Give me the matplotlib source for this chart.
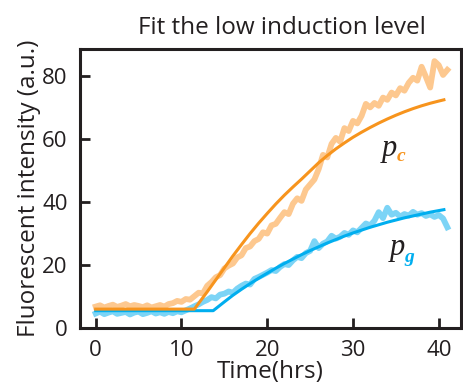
import matplotlib
matplotlib.use("Agg")
import matplotlib.pyplot as plt
import numpy as np

# measured traces, sampled every 0.5 h
time_raw = np.arange(0, 41.01, 0.5)
pc_raw = [
    6.8, 7.2, 6.5, 7.0, 7.4, 6.7, 7.1, 7.6, 6.9, 7.3,
    7.0, 6.6, 7.2, 6.5, 6.9, 7.3, 6.8, 7.6, 7.9, 8.6,
    8.3, 9.2, 9.0, 10.1, 11.2, 11.0, 13.4, 14.6, 16.1, 16.8,
    18.9, 19.8, 20.5, 22.4, 23.1, 25.4, 25.9, 27.6, 28.3, 30.4,
    30.0, 32.6, 33.1, 35.0, 36.8, 36.2, 39.5, 41.2, 40.4, 44.0,
    45.6, 47.2, 50.5, 55.0, 54.2, 58.5, 60.4, 59.2, 63.5, 62.6,
    65.8, 65.0, 67.4, 71.2, 70.1, 71.5, 70.6, 73.2, 72.5, 74.8,
    73.9, 76.2, 75.4, 77.9, 79.5, 78.6, 83.0, 79.8, 76.4, 84.8,
    83.5, 80.4, 82.0,
]
pg_raw = [
    4.6, 5.2, 4.4, 4.9, 5.3, 4.5, 4.8, 5.1, 4.3, 4.9,
    5.2, 4.4, 4.8, 5.3, 4.6, 5.0, 4.5, 5.1, 4.7, 5.3,
    5.0, 5.6, 6.2, 6.9, 7.5, 8.3, 8.9, 9.8, 9.4, 10.6,
    10.9, 11.6, 11.2, 12.5, 13.4, 14.1, 13.8, 15.6, 16.2, 16.9,
    17.6, 18.4, 18.1, 19.4, 20.3, 20.0, 21.5, 22.6, 22.2, 23.8,
    24.5, 27.6, 25.4, 26.8, 27.5, 29.3, 28.4, 29.0, 30.2, 29.6,
    31.0, 30.4, 31.8, 33.2, 32.6, 34.1, 36.8, 34.9, 38.2, 36.0,
    36.6, 35.4, 36.2, 35.7, 36.9, 36.0, 36.5, 35.6, 36.1, 35.3,
    35.9, 34.8, 32.0,
]

# model fits
pc_fit_t = [0, 11.5, 13, 14, 15, 16, 17, 18, 19, 20, 21, 22, 23, 24, 25, 26, 27,
            28, 29, 30, 31, 32, 33, 34, 35, 36, 37, 38, 39, 40, 40.6]
pc_fit = [6.0, 6.0, 11.5, 15.3, 19.1, 22.9, 26.5, 30.0, 33.3, 36.4, 39.4, 42.2,
          44.8, 47.3, 49.9, 52.5, 54.8, 56.9, 58.8, 60.6, 62.2, 63.7, 65.1,
          66.4, 67.6, 68.7, 69.7, 70.6, 71.4, 72.1, 72.5]
pg_fit_t = [0, 13.7, 15, 16, 17, 18, 19, 20, 21, 22, 23, 24, 25, 26, 27, 28, 29,
            30, 31, 32, 33, 34, 35, 36, 37, 38, 39, 40, 40.6]
pg_fit = [5.5, 5.5, 8.3, 10.4, 12.3, 14.1, 15.8, 17.4, 19.0, 20.5, 21.9, 23.3,
          24.6, 25.8, 27.0, 28.1, 29.2, 30.2, 31.1, 32.0, 32.8, 33.6, 34.3,
          35.0, 35.6, 36.2, 36.8, 37.3, 37.6]

orange = "#F7941D"
orange_light = "#FDC88F"
blue = "#00AEEF"
blue_light = "#7CD4F6"
ink = "#231F20"

plt.rcParams["font.family"] = ["Open Sans", "DejaVu Sans"]

fig = plt.figure(figsize=(4.63, 3.9), dpi=100)
ax = fig.add_axes([0.1728, 0.159, 0.823, 0.715])

ax.plot(time_raw, pg_raw, color=blue_light, lw=4.2, solid_joinstyle="round")
ax.plot(time_raw, pc_raw, color=orange_light, lw=4.2, solid_joinstyle="round")
ax.plot(pg_fit_t, pg_fit, color=blue, lw=2.2)
ax.plot(pc_fit_t, pc_fit, color=orange, lw=2.2)

ax.set_xlim(-1.83, 42.6)
ax.set_ylim(0, 88.6)
ax.set_xticks([0, 10, 20, 30, 40])
ax.set_yticks([0, 20, 40, 60, 80])
ax.tick_params(direction="in", length=7, width=2, labelsize=16, pad=9,
               colors=ink)
for s in ax.spines.values():
    s.set_linewidth(2.2)
    s.set_color(ink)

ax.set_xlabel("Time(hrs)", fontsize=17.5, color=ink, labelpad=-1)
ax.set_ylabel("Fluorescent intensity (a.u.)", fontsize=17.5, color=ink,
              labelpad=1)
ax.set_title("Fit the low induction level", fontsize=17.5, color=ink,
             pad=11, x=0.53)

serif = ["Liberation Serif", "DejaVu Serif"]
ax.text(34.3, 57, "p", family=serif, style="italic", fontsize=22,
        ha="center", va="center", color=ink)
ax.text(35.6, 54.5, "c", family=serif, style="italic", weight="bold",
        fontsize=14, ha="center", va="center", color=orange)
ax.text(35.2, 25.7, "p", family=serif, style="italic", fontsize=22,
        ha="center", va="center", color=ink)
ax.text(36.6, 22.5, "g", family=serif, style="italic", weight="bold",
        fontsize=14, ha="center", va="center", color=blue)

fig.savefig("out.png", dpi=100)
